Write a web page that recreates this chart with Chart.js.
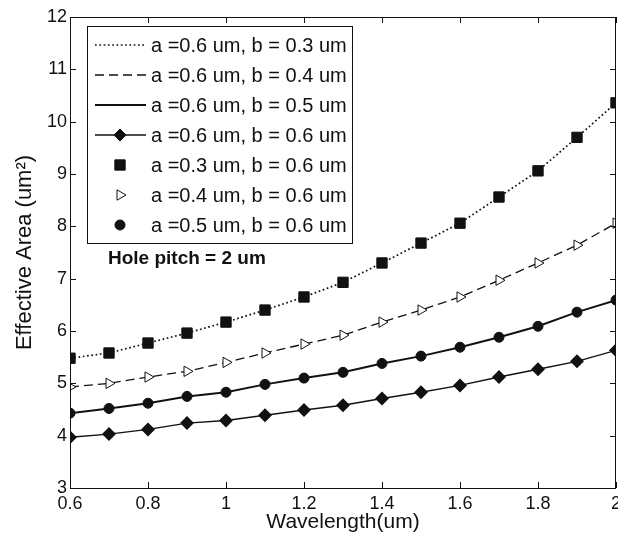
<!DOCTYPE html>
<html>
<head>
<meta charset="utf-8">
<script src="https://cdn.jsdelivr.net/npm/chart.js@4/dist/chart.umd.min.js"></script>
<style>
  html, body { margin: 0; padding: 0; background: #fff; }
  #wrap { width: 618px; height: 543px; }
</style>
</head>
<body>
<div id="wrap"><canvas id="myChart" width="618" height="543"></canvas></div>
<script>
let wavelength = [0.6,0.7,0.8,0.9,1.0,1.1,1.2,1.3,1.4,1.5,1.6,1.7,1.8,1.9,2.0];

// lines (a = 0.6 um, b varies)
let areaB03 = [5.48,5.58,5.77,5.96,6.17,6.40,6.65,6.93,7.30,7.68,8.06,8.56,9.06,9.70,10.36];
let areaB04 = [4.93,5.00,5.12,5.23,5.40,5.58,5.75,5.92,6.17,6.40,6.65,6.97,7.30,7.64,8.06];
let areaB05 = [4.43,4.52,4.62,4.75,4.83,4.98,5.10,5.21,5.38,5.52,5.69,5.88,6.09,6.36,6.59];
let areaB06 = [3.97,4.03,4.12,4.24,4.29,4.39,4.49,4.58,4.71,4.83,4.96,5.12,5.27,5.42,5.63];

// markers only (b = 0.6 um, a varies)
let areaA03 = [5.48,5.58,5.77,5.96,6.17,6.40,6.65,6.93,7.30,7.68,8.06,8.56,9.06,9.70,10.36];
let areaA04 = [4.93,5.00,5.12,5.23,5.40,5.58,5.75,5.92,6.17,6.40,6.65,6.97,7.30,7.64,8.06];
let areaA05 = [4.43,4.52,4.62,4.75,4.83,4.98,5.10,5.21,5.38,5.52,5.69,5.88,6.09,6.36,6.59];

let xTicks = [0.6,0.8,1,1.2,1.4,1.6,1.8,2];
let yTicks = [3,4,5,6,7,8,9,10,11,12];

let labels = [
  'a =0.6 um, b = 0.3 um',
  'a =0.6 um, b = 0.4 um',
  'a =0.6 um, b = 0.5 um',
  'a =0.6 um, b = 0.6 um',
  'a =0.3 um, b = 0.6 um',
  'a =0.4 um, b = 0.6 um',
  'a =0.5 um, b = 0.6 um'
];

function pts(arr){
  return arr.map((v,i) => ({x: wavelength[i], y: v}));
}

const FONT = '"Liberation Sans", Arial, sans-serif';

// legend box drawn inside the axes, like matlab
const boxLegend = {
  id: 'boxLegend',
  afterDatasetsDraw(chart){
    const ctx = chart.ctx;
    ctx.save();
    ctx.fillStyle = '#fff';
    ctx.strokeStyle = '#111';
    ctx.lineWidth = 1;
    ctx.fillRect(87.5, 26.5, 265, 217);
    ctx.strokeRect(87.5, 26.5, 265, 217);
    chart.data.datasets.forEach((ds, i) => {
      let y = 45 + i*30;
      if (ds.showLine !== false){
        ctx.save();
        ctx.strokeStyle = ds.borderColor;
        ctx.lineWidth = ds.borderWidth;
        ctx.setLineDash(ds.borderDash || []);
        ctx.beginPath();
        ctx.moveTo(95, y);
        ctx.lineTo(146, y);
        ctx.stroke();
        ctx.restore();
      }
      if (ds.pointRadius > 0){
        ctx.save();
        ctx.fillStyle = ds.pointBackgroundColor;
        ctx.strokeStyle = ds.pointBorderColor;
        ctx.lineWidth = 1;
        Chart.helpers.drawPoint(ctx, {
          pointStyle: ds.pointStyle,
          rotation: ds.pointRotation || 0,
          radius: ds.pointRadius,
          borderWidth: 1
        }, 120, y);
        ctx.restore();
      }
      ctx.fillStyle = '#111';
      ctx.font = '20px ' + FONT;
      ctx.textBaseline = 'middle';
      ctx.textAlign = 'left';
      ctx.fillText(ds.label, 151, y + 1);
    });
    ctx.font = 'bold 19px ' + FONT;
    ctx.fillText('Hole pitch = 2 um', 108, 259);
    ctx.restore();
  }
};

// frame + inward tick marks
const frameTicks = {
  id: 'frameTicks',
  afterDraw(chart){
    const ctx = chart.ctx;
    const a = chart.chartArea;
    const xs = chart.scales.x, ys = chart.scales.y;
    ctx.save();
    ctx.strokeStyle = '#111';
    ctx.lineWidth = 1;
    ctx.strokeRect(a.left + 0.5, a.top + 0.5, a.right - a.left - 1, a.bottom - a.top);
    ctx.beginPath();
    xTicks.forEach(v => {
      let px = Math.round(xs.getPixelForValue(v)) + 0.5;
      ctx.moveTo(px, a.bottom); ctx.lineTo(px, a.bottom - 6);
      ctx.moveTo(px, a.top); ctx.lineTo(px, a.top + 6);
    });
    yTicks.forEach(v => {
      let py = Math.round(ys.getPixelForValue(v)) + 0.5;
      ctx.moveTo(a.left, py); ctx.lineTo(a.left + 6, py);
      ctx.moveTo(a.right, py); ctx.lineTo(a.right - 6, py);
    });
    ctx.stroke();
    ctx.restore();
  }
};

let ctx = document.getElementById('myChart').getContext('2d');
let myChart = new Chart(ctx, {
  type: 'line',
  data: {
    datasets: [
      {
        label: labels[0],
        data: pts(areaB03),
        borderColor: '#111',
        borderWidth: 1.7,
        borderDash: [1.7, 2.6],
        pointRadius: 0
      },
      {
        label: labels[1],
        data: pts(areaB04),
        borderColor: '#111',
        borderWidth: 1.3,
        borderDash: [9, 5],
        pointRadius: 0
      },
      {
        label: labels[2],
        data: pts(areaB05),
        borderColor: '#111',
        borderWidth: 2,
        pointRadius: 0
      },
      {
        label: labels[3],
        data: pts(areaB06),
        borderColor: '#111',
        borderWidth: 1.4,
        pointStyle: 'rectRot',
        pointRadius: 6,
        pointBackgroundColor: '#111',
        pointBorderColor: '#111'
      },
      {
        label: labels[4],
        data: pts(areaA03),
        showLine: false,
        order: -1,
        pointStyle: 'rect',
        pointRadius: 7.3,
        pointBackgroundColor: '#111',
        pointBorderColor: '#111'
      },
      {
        label: labels[5],
        data: pts(areaA04),
        showLine: false,
        order: -1,
        pointStyle: 'triangle',
        pointRotation: 90,
        pointRadius: 6,
        pointBackgroundColor: '#fff',
        pointBorderColor: '#111'
      },
      {
        label: labels[6],
        data: pts(areaA05),
        showLine: false,
        order: -1,
        pointStyle: 'circle',
        pointRadius: 5,
        pointBackgroundColor: '#111',
        pointBorderColor: '#111'
      }
    ]
  },
  options: {
    responsive: false,
    animation: false,
    layout: { autoPadding: false, padding: { top: 17, right: 2, left: 0, bottom: 0 } },
    elements: { line: { tension: 0, fill: false }, point: { borderWidth: 1 } },
    plugins: { legend: { display: false }, tooltip: { enabled: false } },
    scales: {
      x: {
        type: 'linear',
        min: 0.6, max: 2,
        grid: { display: false, drawTicks: false },
        border: { display: false },
        afterBuildTicks: s => { s.ticks = xTicks.map(v => ({value: v})); },
        afterFit: s => { s.height = 55; s.paddingLeft = 0; s.paddingRight = 0; },
        ticks: {
          padding: 5,
          color: '#111',
          font: { family: FONT, size: 18 },
          maxRotation: 0,
          callback: v => String(+v.toFixed(1))
        },
        title: {
          display: true,
          text: 'Wavelength(um)',
          color: '#111',
          font: { family: FONT, size: 21 },
          padding: { top: 0, bottom: 8 }
        }
      },
      y: {
        min: 3, max: 12,
        grid: { display: false, drawTicks: false },
        border: { display: false },
        afterBuildTicks: s => { s.ticks = yTicks.map(v => ({value: v})); },
        afterFit: s => { s.width = 70; },
        ticks: {
          padding: 3,
          color: '#111',
          font: { family: FONT, size: 18 }
        },
        title: {
          display: true,
          text: 'Effective Area (um²)',
          color: '#111',
          font: { family: FONT, size: 22 },
          padding: { top: 12, bottom: 0 }
        }
      }
    }
  },
  plugins: [boxLegend, frameTicks]
});
</script>
</body>
</html>
